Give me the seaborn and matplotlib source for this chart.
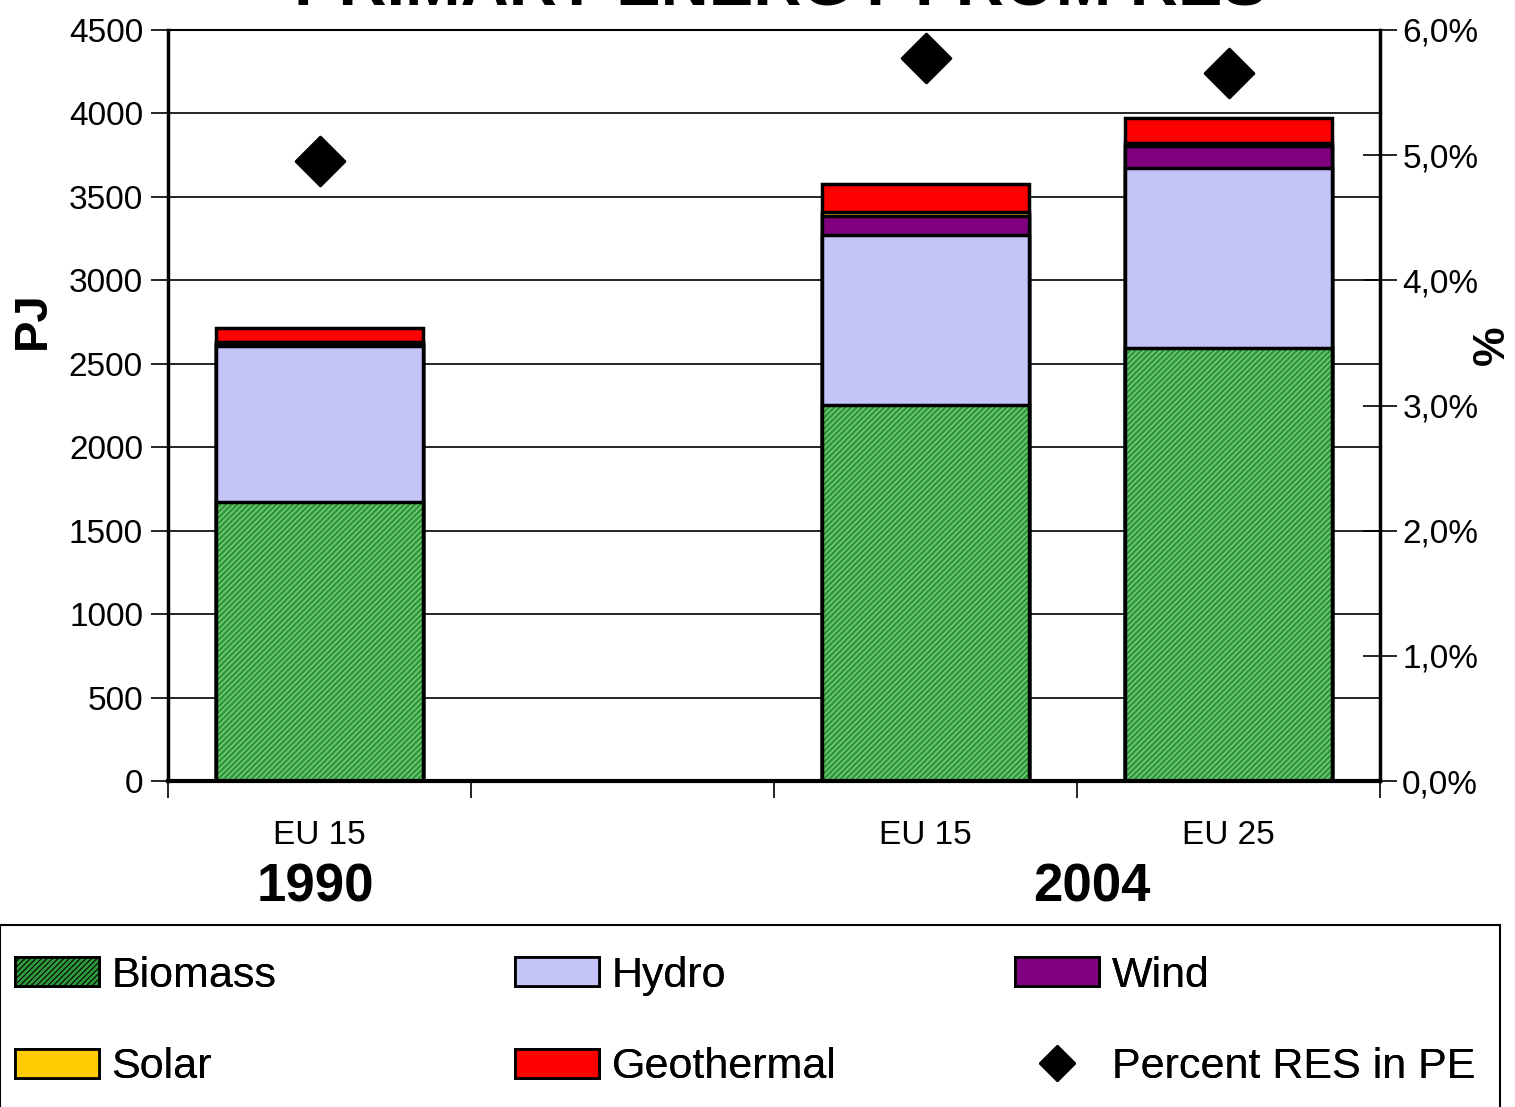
import matplotlib
matplotlib.use("Agg")
import matplotlib.pyplot as plt
import seaborn as sns
import pandas as pd
import numpy as np
from matplotlib.patches import Patch, Rectangle
from matplotlib.lines import Line2D

# data (PJ)
slots = ["1990 EU15", "gap", "2004 EU15", "2004 EU25"]
bar_slots = ["1990 EU15", "2004 EU15", "2004 EU25"]
tick_labels = ["EU 15", "", "EU 15", "EU 25"]
biomass = [1672, 2253, 2594]
hydro = [934, 1018, 1079]
wind = [10, 114, 132]
solar = [12, 24, 18]
geothermal = [86, 168, 149]
pct_res = [4.95, 5.78, 5.66]
pct_x = [0, 2, 3]

sources = ["Biomass", "Hydro", "Wind", "Solar", "Geothermal"]
colors = {"Biomass": "#2f9a3a", "Hydro": "#c4c4f8", "Wind": "#800080",
          "Solar": "#ffcc00", "Geothermal": "#ff0000"}
hatches = {"Biomass": "//////", "Hydro": "", "Wind": "", "Solar": "", "Geothermal": ""}

sns.set_style("white")
plt.rcParams["font.family"] = ["Liberation Sans", "DejaVu Sans"]
plt.rcParams["hatch.linewidth"] = 0.8
for k in ["text.color", "axes.labelcolor", "xtick.color", "ytick.color"]:
    plt.rcParams[k] = "black"

df = pd.DataFrame({"slot": bar_slots, "Biomass": biomass, "Hydro": hydro,
                   "Wind": wind, "Solar": solar, "Geothermal": geothermal})
cum = df[sources].cumsum(axis=1)

fig = plt.figure(figsize=(15.15, 11.07), dpi=100)
ax = fig.add_axes([168 / 1515, 1 - 781 / 1107, (1380 - 168) / 1515, (781 - 30) / 1107])

ax.yaxis.grid(True, color="black", linewidth=1.2)
ax.set_axisbelow(True)

# stacked bars: draw cumulative totals from the top down
for src in reversed(sources):
    sns.barplot(x=df["slot"], y=cum[src], order=slots, ax=ax, width=0.68,
                color=colors[src], saturation=1, edgecolor="black",
                linewidth=2.5, hatch=hatches[src])
    if src == "Biomass":
        for p in ax.patches[-3:]:
            p.set_edgecolor("#8fd48f")
            p.set_linewidth(0)
        sns.barplot(x=df["slot"], y=cum[src], order=slots, ax=ax, width=0.68,
                    fill=False, edgecolor="black", linewidth=2.5)

ax.set_ylim(0, 4500)
ax.set_xlim(-0.5, 3.5)
ax.set_yticks(np.arange(0, 4501, 500))
ax.tick_params(axis="y", labelsize=24, length=12, width=1.2, direction="out", left=True, pad=6)
ax.set_xticks(range(4))
ax.set_xticklabels(tick_labels, fontsize=24)
ax.tick_params(axis="x", length=0, pad=28)
ax.set_xticks([-0.5, 0.5, 1.5, 2.5, 3.5], minor=True)
ax.tick_params(axis="x", which="minor", length=12, width=1.2, direction="out", bottom=True)
ax.set_xlabel("")
ax.set_ylabel("PJ", fontsize=34, fontweight="bold")
ax.yaxis.set_label_coords(-0.093, 0.614)
for s in ax.spines.values():
    s.set_color("black")
ax.spines["left"].set_linewidth(2.5)
ax.spines["bottom"].set_linewidth(3)
ax.spines["top"].set_linewidth(1.5)
ax.spines["right"].set_linewidth(2.5)

ax2 = ax.twinx()
sns.scatterplot(x=pct_x, y=pct_res, ax=ax2, marker="D", s=620, color="black",
                edgecolor="black", zorder=5, legend=False)
ax2.set_ylim(0, 6)
ax2.set_xlim(-0.5, 3.5)
ax2.set_yticks(np.arange(0, 6.01, 1))
ax2.set_yticklabels([f"{v:.1f}%".replace(".", ",") for v in np.arange(0, 6.01, 1)])
ax2.tick_params(axis="y", labelsize=24, length=24, width=1.2, direction="inout", right=True, pad=4)
ax2.set_ylabel("%", fontsize=32, fontweight="bold", rotation=90)
ax2.yaxis.set_label_coords(1.076, 0.58)
for s in ax2.spines.values():
    s.set_visible(False)

fig.text(315 / 1515, 1 - 888 / 1107, "1990", ha="center", va="center", fontsize=38, fontweight="bold")
fig.text(1092 / 1515, 1 - 888 / 1107, "2004", ha="center", va="center", fontsize=38, fontweight="bold")
fig.text(780 / 1515, 1 - 6 / 1107, "PRIMARY ENERGY FROM RES", ha="center", va="baseline",
         fontsize=48, fontweight="bold")

# legend: three columns of two entries, in one box that runs off the bottom
fig.patches.append(Rectangle((0, -0.01), 1500 / 1515, 1 - 925 / 1107 + 0.01,
                             transform=fig.transFigure, facecolor="white",
                             edgecolor="black", linewidth=1.5, zorder=0))
handles = [Patch(facecolor=colors[s], edgecolor="black", linewidth=2, hatch=hatches[s]) for s in sources]
handles.append(Line2D([], [], marker="D", color="black", linestyle="none", markersize=18))
labels = sources + ["Percent RES in PE"]
columns = [[0, 3], [1, 4], [2, 5]]
for col, idx in enumerate(columns):
    leg = fig.legend([handles[i] for i in idx], [labels[i] for i in idx],
                     loc="upper left", bbox_to_anchor=(col * 500 / 1515, 1 - 941 / 1107),
                     fontsize=31, frameon=False, handlelength=1.95, handleheight=0.66,
                     labelspacing=1.2, borderpad=0.34, handletextpad=0.3, borderaxespad=0)
    fig.add_artist(leg)

fig.savefig("out.png", dpi=100)
